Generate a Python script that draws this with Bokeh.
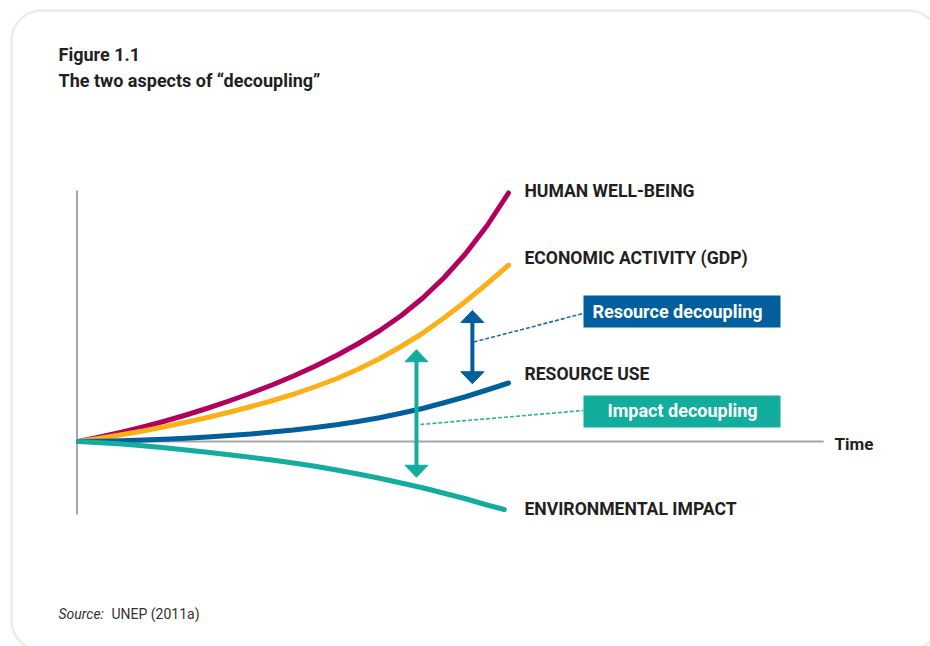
from bokeh.plotting import figure
from bokeh.models import Range1d, BoxAnnotation
from bokeh.core.properties import value
from bokeh.embed import file_html
from bokeh.resources import INLINE

# ---------------- data (conceptual index values) ----------------
time = [0, 0.5, 1, 1.5, 2, 2.5, 3, 3.5, 4, 4.5, 5, 5.5, 6, 6.5, 7, 7.5, 8, 8.5, 9, 9.5, 10]
human_wellbeing = [0, 0.18, 0.37, 0.58, 0.81, 1.06, 1.33, 1.62, 1.93, 2.26, 2.62,
                   3.01, 3.44, 3.91, 4.43, 5.03, 5.73, 6.55, 7.51, 8.63, 9.94]
economic_activity = [0, 0.13, 0.27, 0.42, 0.59, 0.77, 0.96, 1.17, 1.39, 1.63, 1.89,
                     2.19, 2.51, 2.89, 3.31, 3.80, 4.33, 4.94, 5.60, 6.31, 7.05]
resource_use = [0, 0.01, 0.03, 0.06, 0.09, 0.13, 0.18, 0.24, 0.30, 0.38, 0.46,
                0.56, 0.67, 0.80, 0.95, 1.13, 1.32, 1.55, 1.79, 2.06, 2.34]
time_impact = [0, 0.5, 1, 1.5, 2, 2.5, 3, 3.5, 4, 4.5, 5, 5.5, 6, 6.5, 7, 7.5, 8, 8.5, 9, 9.5, 9.9]
environmental_impact = [0, -0.05, -0.10, -0.17, -0.25, -0.34, -0.43, -0.53, -0.63, -0.74, -0.86,
                        -0.99, -1.14, -1.30, -1.47, -1.66, -1.85, -2.07, -2.29, -2.54, -2.72]

series_labels = ["HUMAN WELL-BEING", "ECONOMIC ACTIVITY (GDP)", "RESOURCE USE", "ENVIRONMENTAL IMPACT"]
series_colors = ["#b3005e", "#fbb017", "#005f9c", "#13ad9e"]

# ---------------- layout ----------------
X_PX = 43.0   # px per time unit
Y_PX = 25.0   # px per value unit
W, H = 930, 646
x0 = (0 - 78) / X_PX
y1 = (441 - 0) / Y_PX
x_range = Range1d(x0, x0 + W / X_PX)
y_range = Range1d(y1 - H / Y_PX, y1)

p = figure(width=W, height=H, x_range=x_range, y_range=y_range,
           output_backend="svg", toolbar_location=None, min_border=0,
           background_fill_color="white", border_fill_color="white")
p.axis.visible = False
p.grid.visible = False
p.outline_line_color = None

FONT = value("Roboto")
DARK = "#231f20"

def dx(px):
    return (px - 78) / X_PX

def dy(py):
    return (441 - py) / Y_PX

# rounded frame
p.add_layout(BoxAnnotation(left=dx(11), right=dx(938), top=dy(10), bottom=dy(650),
                           fill_alpha=0, line_color="#c0c4a9", line_width=2.5,
                           border_radius=30))

# axes
p.segment(x0=[-0.035, 0], y0=[10.04, 0], x1=[-0.035, 17.33], y1=[-2.92, 0],
          line_color="#a7a7a7", line_width=2)

# curves
ys = [human_wellbeing, economic_activity, resource_use, environmental_impact]
xs = [time, time, time, time_impact]
for xv, yv, c in zip(xs, ys, series_colors):
    p.line(xv, yv, line_color=c, line_width=5, line_cap="round", line_join="round")

# curve labels
label_y = [10.04, 7.36, 2.72, -2.68]
p.text(x=[10.37] * 4, y=label_y, text=series_labels, text_font=FONT,
       text_font_style="bold", text_font_size="17.6px", text_color=DARK,
       text_baseline="middle", text_align="left")
p.text(x=[dx(834)], y=[dy(443)], text=["Time"], text_font=FONT, text_font_style="bold",
       text_font_size="17px", text_color=DARK, text_baseline="middle")

# double arrows
def double_arrow(x, ytop, ybot, color):
    hw = 11.5 / X_PX
    hl = 12.0 / Y_PX
    p.segment(x0=[x], y0=[ytop - hl + 0.05], x1=[x], y1=[ybot + hl - 0.05],
              line_color=color, line_width=4)
    p.patches(xs=[[x - hw, x, x + hw], [x - hw, x, x + hw]],
              ys=[[ytop - hl, ytop, ytop - hl], [ybot + hl, ybot, ybot + hl]],
              fill_color=color, line_color=color, line_width=1)

double_arrow(9.16, 5.24, 2.31, "#005f9c")
double_arrow(7.86, 3.67, -1.43, "#13ad9e")

# dashed leaders
p.segment(x0=[9.19], y0=[3.98], x1=[11.74], y1=[5.12], line_color="#1f6fa6",
          line_width=1.6, line_dash="4 2")
p.segment(x0=[7.95], y0=[0.68], x1=[11.74], y1=[1.24], line_color="#29b3a4",
          line_width=1.6, line_dash="4 2")

# boxes
p.quad(left=[dx(583), dx(583)], right=[dx(780), dx(780)], top=[dy(295), dy(395)],
       bottom=[dy(327), dy(427)], fill_color=["#005f9c", "#13ad9e"], line_color=None)
p.text(x=[dx(677), dx(682)], y=[dy(311), dy(410)], text=["Resource decoupling", "Impact decoupling"],
       text_font=FONT, text_font_style="bold", text_font_size="18px",
       text_color="white", text_align="center", text_baseline="middle")

# title and source
p.text(x=[dx(58)], y=[dy(54)], text=["Figure 1.1"], text_font=FONT,
       text_font_style="bold", text_font_size="18px", text_color=DARK, text_baseline="middle")
p.text(x=[dx(58)], y=[dy(80)], text=["The two aspects of \u201cdecoupling\u201d"],
       text_font=FONT, text_font_style="bold", text_font_size="18px", text_color=DARK,
       text_baseline="middle")
p.text(x=[dx(58)], y=[dy(613)], text=["Source:"], text_font=FONT,
       text_font_style="italic", text_font_size="14px", text_color="#333333",
       text_baseline="middle")
p.text(x=[dx(111)], y=[dy(613)], text=["UNEP (2011a)"], text_font=FONT,
       text_font_size="14px", text_color="#333333", text_baseline="middle")

open("out.html", "w").write(file_html(p, INLINE))
